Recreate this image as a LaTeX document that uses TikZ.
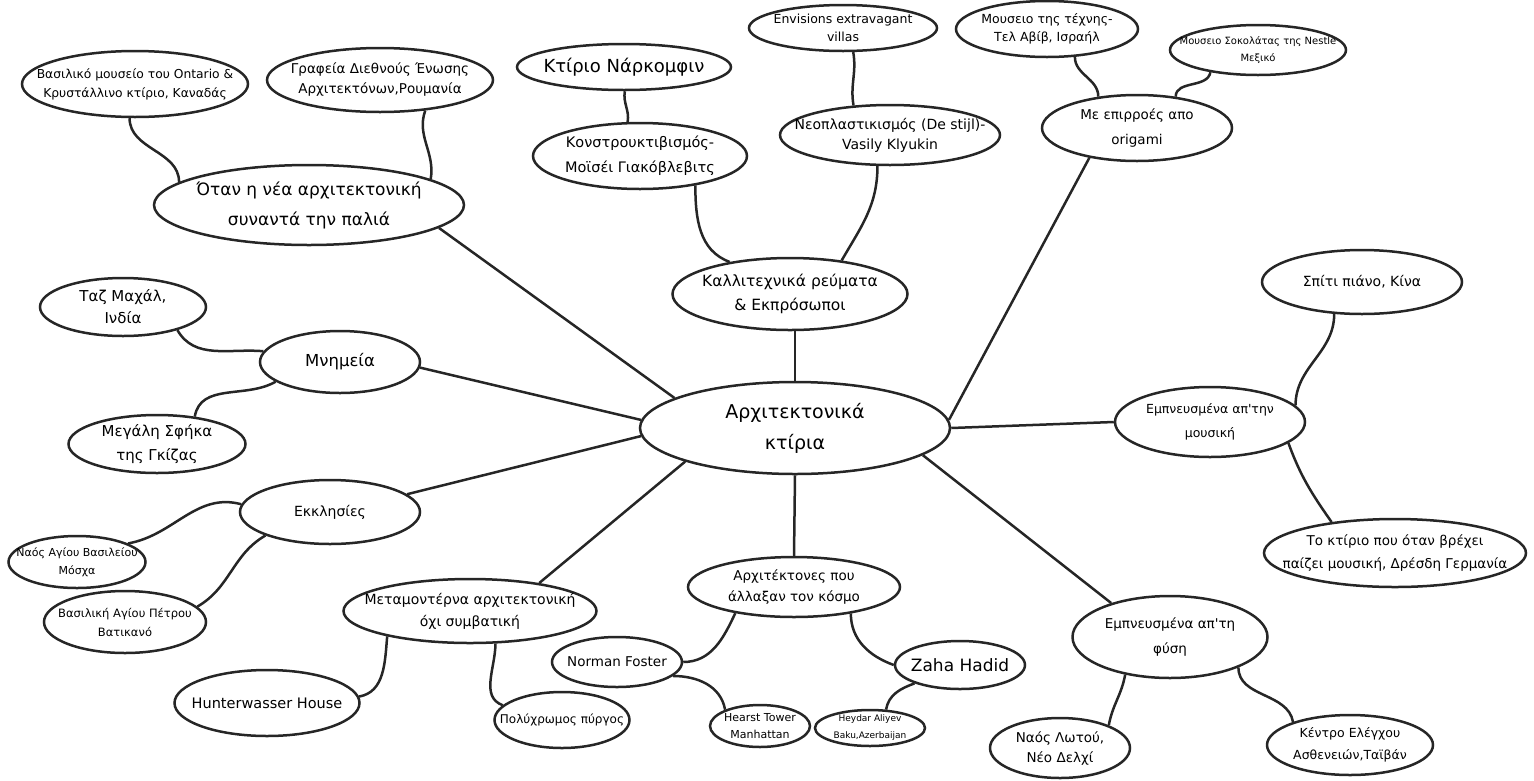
\documentclass[tikz,border=0pt]{standalone}
\usepackage{fontspec}
\setmainfont{DejaVu Sans}
\usepackage{tikz}
\usetikzlibrary{shapes.geometric}
\definecolor{Ink}{RGB}{38,38,38}
\newcommand{\fz}[2]{\fontsize{#1}{#2}\selectfont}

\begin{document}
\begin{tikzpicture}[x=1pt, y=-1pt,
	bubble/.style 2 args={ellipse, draw=Ink, line width=2.5pt, fill=white, inner sep=0pt, minimum width=#1pt, minimum height=#2pt},
	link/.style={draw=Ink, line width=2.5pt},
	every label/.append style={align=center, inner sep=0pt}]
			\useasboundingbox (0,0) rectangle (1534,780);
			% κέντρο
			\node[bubble={310}{92}, label={[font=\fz{19}{31}]center:Αρχιτεκτονικά\\κτίρια}] (K) at (795,428) {};
			% νέα και παλιά αρχιτεκτονική
			\node[bubble={310}{80}, label={[font=\fz{17}{30}]center:Όταν η νέα αρχιτεκτονική\\συναντά την παλιά}] (N) at (309,205) {};
			\node[bubble={226}{66}, label={[font=\fz{12.3}{19}]center:Βασιλικό μουσείο του Ontario \&\\Κρυστάλλινο κτίριο, Καναδάς}] (N1) at (135,84) {};
			\node[bubble={226}{64}, label={[font=\fz{13.5}{20}]center:Γραφεία Διεθνούς Ένωσης\\Αρχιτεκτόνων,Ρουμανία}] (N2) at (380,80) {};
			% ρεύματα
			\node[bubble={235}{72}, label={[font=\fz{15.5}{24}]center:Καλλιτεχνικά ρεύματα\\\& Εκπρόσωποι}] (R) at (790,294) {};
			\node[bubble={214}{66}, label={[font=\fz{14.5}{25}]center:Κονστρουκτιβισμός-\\Μοϊσέι Γιακόβλεβιτς}] (R1) at (640,156) {};
			\node[bubble={214}{46}, label={[font=\fz{18}{20}]center:Κτίριο Νάρκομφιν}] (R11) at (624,67) {};
			\node[bubble={220}{60}, label={[font=\fz{14}{20}]center:Νεοπλαστικισμός (De stijl)-\\Vasily Klyukin}] (R2) at (890,135) {};
			\node[bubble={188}{46}, label={[font=\fz{12.5}{18}]center:Envisions extravagant\\villas}] (R21) at (843,28) {};
			% origami
			\node[bubble={190}{66}, label={[font=\fz{13.5}{25}]center:Με επιρροές απο\\origami}] (O) at (1137,128) {};
			\node[bubble={182}{56}, label={[font=\fz{12.5}{18}]center:Μουσειο της τέχνης-\\Τελ Αβίβ, Ισραήλ}] (O1) at (1047,29) {};
			\node[bubble={176}{50}, label={[font=\fz{10}{17}]center:Μουσειο Σοκολάτας της Nestle\\Μεξικό}] (O2) at (1258,50) {};
			% μουσική
			\node[bubble={190}{70}, label={[font=\fz{12.5}{24}]center:Εμπνευσμένα απ\textquotesingle την\\μουσική}] (M) at (1210,422) {};
			\node[bubble={200}{64}, label={[font=\fz{14}{20}]center:Σπίτι πιάνο, Κίνα}] (M1) at (1362,282) {};
			\node[bubble={262}{68}, label={[font=\fz{13.5}{23}]center:Το κτίριο που όταν βρέχει\\παίζει μουσική, Δρέσδη Γερμανία}] (M2) at (1395,553) {};
			% φύση
			\node[bubble={195}{82}, label={[font=\fz{13.5}{25}]center:Εμπνευσμένα απ\textquotesingle τη\\φύση}] (F) at (1170,637) {};
			\node[bubble={140}{60}, label={[font=\fz{13.5}{20}]center:Ναός Λωτού,\\Νέο Δελχί}] (F1) at (1060,748) {};
			\node[bubble={166}{60}, label={[font=\fz{12.5}{22}]center:Κέντρο Ελέγχου\\Ασθενειών,Ταϊβάν}] (F2) at (1350,745) {};
			% αρχιτέκτονες
			\node[bubble={212}{60}, label={[font=\fz{13.5}{21}]center:Αρχιτέκτονες που\\άλλαξαν τον κόσμο}] (A) at (794,587) {};
			\node[bubble={130}{50}, label={[font=\fz{13.5}{20}]center:Norman Foster}] (A1) at (617,662) {};
			\node[bubble={100}{42}, label={[font=\fz{11}{17}]center:Hearst Tower\\Manhattan}] (A11) at (760,726) {};
			\node[bubble={130}{48}, label={[font=\fz{17}{20}]center:Zaha Hadid}] (A2) at (960,665) {};
			\node[bubble={110}{36}, label={[font=\fz{9}{17}]center:Heydar Aliyev\\Baku,Azerbaijan}] (A21) at (870,728) {};
			% μεταμοντέρνα
			\node[bubble={253}{64}, label={[font=\fz{14}{22}]center:Μεταμοντέρνα αρχιτεκτονική\\όχι συμβατική}] (P) at (470,611) {};
			\node[bubble={185}{66}, label={[font=\fz{14.5}{20}]center:Hunterwasser House}] (P1) at (267,703) {};
			\node[bubble={135}{56}, label={[font=\fz{12}{20}]center:Πολύχρωμος πύργος}] (P2) at (562,720) {};
			% εκκλησίες
			\node[bubble={180}{64}, label={[font=\fz{14}{20}]center:Εκκλησίες}] (E) at (330,512) {};
			\node[bubble={137}{52}, label={[font=\fz{11}{18}]center:Ναός Αγίου Βασιλείου\\Μόσχα}] (E1) at (77,562) {};
			\node[bubble={162}{62}, label={[font=\fz{11.5}{19}]center:Βασιλική Αγίου Πέτρου\\Βατικανό}] (E2) at (125,622) {};
			% μνημεία
			\node[bubble={160}{62}, label={[font=\fz{16.5}{20}]center:Μνημεία}] (H) at (340,362) {};
			\node[bubble={166}{58}, label={[font=\fz{15}{22}]center:Ταζ Μαχάλ,\\Ινδία}] (H1) at (123,307) {};
			\node[bubble={177}{58}, label={[font=\fz{15}{24}]center:Μεγάλη Σφήκα\\της Γκίζας}] (H2) at (157,444) {};
			% κλάδοι από το κέντρο
			\draw[link] (N.-10) -- (K.166);
			\draw[link] (H.-4) -- (K.177);
			\draw[link] (E.13) -- (K.183);
			\draw[link] (P.22) -- (K.197);
			\draw[link] (K.south) -- (A.north);
			\draw[link] (K.north) -- (K.north |- R.south);
			\draw[link] (O.212) -- (K.3);
			\draw[link] (M.west) -- (K.east);
			\draw[link] (F.150) -- (K.-12);
			% καμπύλες προς τα φύλλα
			\draw[link] (N1.-99) to[out=-90, in=90] (N.170);
			\draw[link] (N2.-34) to[out=-110, in=80] (N.12);
			\draw[link] (R11.-88) to[out=-100, in=80] (R1.110);
			\draw[link] (R1.-28) to[out=-90, in=160] (R.152);
			\draw[link] (R2.-112) to[out=-90, in=60] (R.33);
			\draw[link] (R21.-67) to[out=-80, in=100] (R2.141);
			\draw[link] (O1.-45) to[out=-90, in=90] (O.141);
			\draw[link] (O2.205) to[out=-100, in=90] (O.39);
			\draw[link] (H1.-23) to[out=-60, in=175] (H.172);
			\draw[link] (H.197) to[out=-150, in=80] (H2.36);
			\draw[link] (E.175) to[out=165, in=10] (E1.20);
			\draw[link] (E.200) to[out=-150, in=30] (E2.12);
			\draw[link] (P.197) to[out=-95, in=10] (P1.4);
			\draw[link] (P.-52) to[out=-90, in=160] (P2.166);
			\draw[link] (A.204) to[out=-115, in=0] (A1.east);
			\draw[link] (A.-25) to[out=-90, in=160] (A2.west);
			\draw[link] (A1.-14) to[out=0, in=100] (A11.155);
			\draw[link] (A2.202) to[out=-160, in=80] (A21.49);
			\draw[link] (M.11) to[out=90, in=-90] (M1.229);
			\draw[link] (M.-15) to[out=-70, in=125] (M2.154);
			\draw[link] (F.-140) to[out=-100, in=80] (F1.25);
			\draw[link] (F.-24) to[out=-90, in=100] (F2.158);
		\end{tikzpicture}
\end{document}
